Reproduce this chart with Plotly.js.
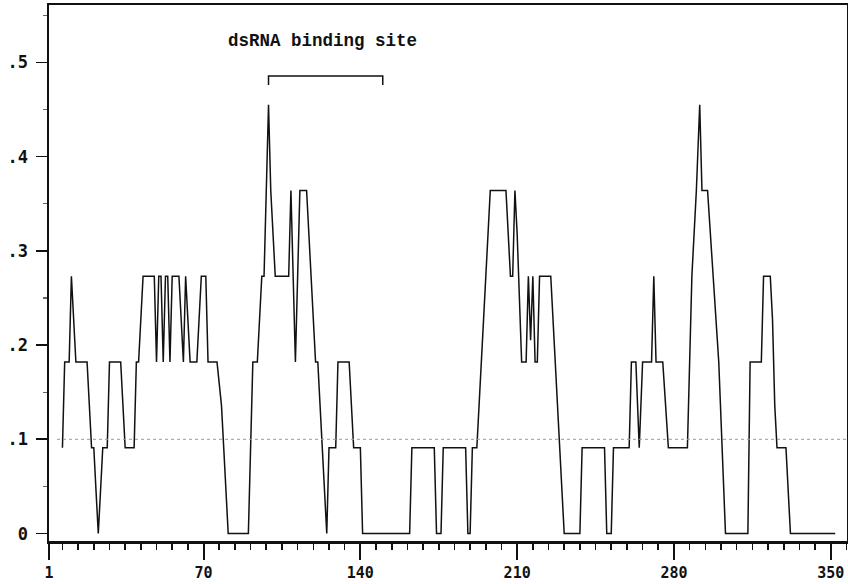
<!DOCTYPE html>
<html>
<head>
<meta charset="utf-8">
<script src="https://cdn.plot.ly/plotly-3.0.1.min.js"></script>
<style>
  html, body { margin: 0; padding: 0; background: #fff; }
  #chart { width: 848px; height: 584px; }
</style>
</head>
<body>
<div id="chart"></div>
<script>
// Residue positions (vertices of the profile) and profile values
const residue = [7, 8, 10, 11, 13, 18, 20, 21, 22, 23, 24, 25, 27, 28, 33, 35, 39, 40, 41, 43,
  48, 49, 50, 51, 52, 53, 54, 55, 56, 59, 61, 62, 63, 64, 67, 69, 71, 72, 76, 78, 79, 81,
  90, 92, 94, 95, 96, 97, 98, 99, 100, 101, 102, 108, 109, 110, 111, 113, 116, 118, 119, 120, 121,
  123, 124, 125, 126, 129, 130, 135, 137, 140, 141, 162, 163, 173, 174, 176, 177,
  187, 188, 189, 190, 192, 195, 196, 198, 205, 207, 208, 209, 210, 211, 212, 214, 215, 216, 217,
  218, 219, 220, 225, 227, 228, 229, 231, 238, 239,
  249, 250, 252, 253, 260, 261, 263, 264.5, 266, 270, 271, 272, 275, 277.5, 286, 287, 288, 290,
  291.5, 292.5, 295, 297.5, 300, 301.5, 303, 313, 314, 319, 320, 323, 324, 325, 326, 330, 332, 352];
const score = [0.091, 0.182, 0.182, 0.273, 0.182, 0.182, 0.091, 0.091, 0.045, 0, 0.045, 0.091, 0.091, 0.182, 0.182, 0.091, 0.091, 0.182, 0.182, 0.273,
  0.273, 0.182, 0.273, 0.273, 0.182, 0.273, 0.273, 0.182, 0.273, 0.273, 0.182, 0.273, 0.227, 0.182, 0.182, 0.273, 0.273, 0.182, 0.182, 0.136, 0.091, 0,
  0, 0.182, 0.182, 0.227, 0.273, 0.273, 0.364, 0.455, 0.364, 0.318, 0.273, 0.273, 0.364, 0.273, 0.182, 0.364, 0.364, 0.273, 0.227, 0.182, 0.182,
  0.091, 0.045, 0, 0.091, 0.091, 0.182, 0.182, 0.091, 0.091, 0, 0, 0.091, 0.091, 0, 0, 0.091,
  0.091, 0, 0, 0.091, 0.091, 0.227, 0.273, 0.364, 0.364, 0.273, 0.273, 0.364, 0.318, 0.25, 0.182, 0.182, 0.273, 0.205, 0.273,
  0.182, 0.182, 0.273, 0.273, 0.182, 0.136, 0.091, 0, 0, 0.091,
  0.091, 0, 0, 0.091, 0.091, 0.182, 0.182, 0.091, 0.182, 0.182, 0.273, 0.182, 0.182, 0.091, 0.091, 0.182, 0.273, 0.364,
  0.455, 0.364, 0.364, 0.273, 0.182, 0.091, 0, 0, 0.182, 0.182, 0.273, 0.273, 0.227, 0.136, 0.091, 0.091, 0, 0];

const xTickVals = [1, 70, 140, 210, 280, 350];
const xTickText = ["1", "70", "140", "210", "280", "350"];
const yTickVals = [0, 0.1, 0.2, 0.3, 0.4, 0.5];
const yTickText = ["0", ".1", ".2", ".3", ".4", ".5"];
const thresholdValue = 0.1;
const siteLabel = "dsRNA binding site";
const siteStart = 99;
const siteEnd = 150;

const xTickFont = {family: "DejaVu Sans Mono", size: 15, color: "#111", weight: "bold"};
const yTickFont = {family: "DejaVu Sans Mono", size: 17, color: "#111", weight: "bold"};

const trace = {
  x: residue, y: score, type: "scatter", mode: "lines",
  line: {color: "#111", width: 1.5},
  hoverinfo: "skip", showlegend: false
};

const layout = {
  width: 848, height: 584,
  margin: {l: 49, r: 1, t: 5, b: 43, pad: 0},
  paper_bgcolor: "#fff", plot_bgcolor: "#fff",
  showlegend: false,
  xaxis: {
    range: [1, 357.25], showgrid: false, zeroline: false,
    showline: true, linecolor: "#111", linewidth: 2.5, mirror: true,
    tickmode: "array", tickvals: xTickVals, ticktext: xTickText,
    ticks: "outside", ticklen: 16, tickwidth: 2, tickcolor: "#111",
    tickfont: xTickFont, ticklabelstandoff: 0,
    minor: {tickmode: "linear", tick0: 0, dtick: 7, ticks: "outside", ticklen: 6, tickwidth: 1.6, tickcolor: "#111", showgrid: false}
  },
  yaxis: {
    range: [-0.0079, 0.5608], showgrid: false, zeroline: false,
    showline: true, linecolor: "#111", linewidth: 2.5, mirror: true,
    tickmode: "array", tickvals: yTickVals, ticktext: yTickText,
    ticks: "outside", ticklen: 11, tickwidth: 1.6, tickcolor: "#111",
    tickfont: yTickFont, ticklabelstandoff: 4,
    minor: {tickmode: "linear", tick0: 0, dtick: 0.05, ticks: "outside", ticklen: 4, tickwidth: 1.2, tickcolor: "#666", showgrid: false}
  },
  shapes: [
    {type: "line", xref: "paper", yref: "y", x0: 0.01, x1: 1, y0: thresholdValue, y1: thresholdValue,
     line: {color: "#999", width: 1, dash: "dot"}},
    {type: "path", xref: "x", yref: "y",
     path: "M " + siteStart + " 0.476 L " + siteStart + " 0.4855 L " + siteEnd + " 0.4855 L " + siteEnd + " 0.476",
     line: {color: "#111", width: 1.5}}
  ],
  annotations: [
    {x: (siteStart + siteEnd) / 2 - 1.2, y: 0.5226, xref: "x", yref: "y", text: siteLabel, showarrow: false,
     font: {family: "Liberation Mono", size: 17.5, color: "#111", weight: "bold"}, xanchor: "center", yanchor: "middle"}
  ]
};

Plotly.newPlot("chart", [trace], layout, {staticPlot: true, displayModeBar: false});
</script>
</body>
</html>
